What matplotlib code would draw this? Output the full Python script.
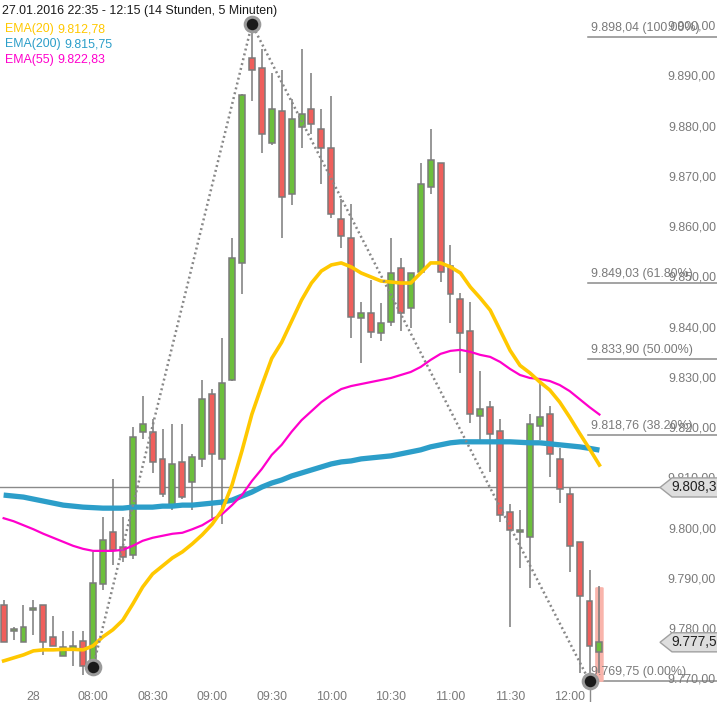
import matplotlib
matplotlib.use("Agg")
import matplotlib.pyplot as plt
from matplotlib.patches import FancyBboxPatch, Polygon
import matplotlib.transforms as mtransforms

plt.rcParams['font.family'] = ['Liberation Sans', 'DejaVu Sans']

# ---------------- data ----------------
idx = list(range(-9, 52))  # candle index, 0 = 08:00, 5 minute bars
opens = [9784.9, 9779.7, 9777.6, 9783.9, 9784.9, 9778.5, 9774.8, 9776.2, 9777.8,
         9772.8, 9789.1, 9799.4, 9796.4, 9794.9, 9819.3, 9819.3, 9813.9, 9804.8, 9813.3,
         9809.4, 9813.9, 9826.9, 9813.9, 9829.8, 9852.9, 9893.7, 9891.7, 9876.8, 9883.3,
         9866.8, 9880.1, 9883.7, 9879.7, 9875.8, 9861.8, 9857.9, 9842.0, 9843.0, 9839.0,
         9841.2, 9851.9, 9844.0, 9851.1, 9868.2, 9872.8, 9852.3, 9845.9, 9839.4, 9822.5,
         9824.3, 9819.5, 9803.4, 9799.4, 9798.4, 9820.5, 9822.9, 9813.9, 9807.0, 9797.4,
         9785.7, 9775.6]
highs = [9785.9, 9780.5, 9784.9, 9785.9, 9784.9, 9782.7, 9779.7, 9779.7, 9779.7,
         9795.4, 9802.4, 9810.0, 9802.4, 9820.3, 9826.5, 9821.9, 9819.9, 9820.9, 9820.9,
         9814.9, 9829.8, 9827.9, 9838.0, 9857.9, 9886.7, 9900.5, 9895.6, 9890.7, 9891.3,
         9885.7, 9895.6, 9890.7, 9883.7, 9886.3, 9865.8, 9864.8, 9845.3, 9849.7, 9845.0,
         9857.9, 9853.9, 9851.0, 9872.8, 9879.7, 9872.8, 9856.5, 9847.0, 9845.3, 9831.4,
         9825.5, 9821.9, 9805.0, 9803.8, 9822.9, 9829.4, 9824.5, 9816.1, 9808.2, 9797.4,
         9791.9, 9788.7]
lows = [9777.6, 9778.0, 9777.6, 9778.9, 9775.0, 9776.8, 9774.8, 9772.8, 9771.0,
        9772.6, 9787.9, 9792.9, 9793.5, 9794.0, 9818.0, 9811.2, 9806.4, 9803.8, 9806.0,
        9803.8, 9812.3, 9802.2, 9801.0, 9829.5, 9846.9, 9885.3, 9874.8, 9876.5, 9857.9,
        9864.6, 9875.8, 9878.7, 9868.8, 9862.0, 9855.9, 9838.0, 9833.1, 9838.0, 9837.4,
        9840.4, 9839.4, 9840.0, 9851.1, 9866.8, 9849.3, 9841.0, 9831.0, 9821.1, 9817.7,
        9811.4, 9801.4, 9780.5, 9792.3, 9788.3, 9817.7, 9810.4, 9805.2, 9791.5, 9771.4,
        9769.75, 9771.4]
closes = [9777.6, 9779.9, 9780.5, 9784.0, 9777.6, 9776.8, 9776.6, 9776.6, 9772.8,
          9789.3, 9797.8, 9795.8, 9794.5, 9818.3, 9820.9, 9813.3, 9807.0, 9812.9, 9806.4,
          9814.3, 9825.9, 9814.9, 9829.2, 9853.9, 9886.5, 9891.3, 9878.7, 9883.7, 9866.2,
          9881.7, 9882.7, 9880.7, 9875.8, 9862.8, 9858.3, 9842.2, 9843.0, 9839.2, 9841.0,
          9850.9, 9843.0, 9850.9, 9868.8, 9873.4, 9851.1, 9846.9, 9839.0, 9822.9, 9823.9,
          9818.9, 9802.8, 9799.8, 9799.8, 9820.9, 9822.3, 9814.9, 9808.0, 9796.6, 9786.7,
          9776.8, 9777.5]

ema20 = [9773.8, 9774.4, 9775.0, 9775.8, 9776.0, 9776.0, 9776.1, 9776.1, 9776.0,
         9776.8, 9778.6, 9780.0, 9781.9, 9785.1, 9788.5, 9791.1, 9792.7, 9794.3, 9795.5,
         9797.1, 9798.9, 9801.0, 9803.8, 9808.8, 9815.6, 9822.9, 9828.6, 9834.0, 9837.2,
         9841.4, 9845.6, 9849.0, 9851.4, 9852.6, 9853.0, 9852.2, 9851.0, 9850.2, 9849.4,
         9849.2, 9849.0, 9849.0, 9851.0, 9853.0, 9853.0, 9852.2, 9851.0, 9848.2, 9846.0,
         9843.6, 9839.6, 9835.6, 9832.6, 9831.1, 9829.3, 9827.7, 9825.3, 9822.3, 9819.1,
         9816.0, 9812.78]
ema55 = [9802.2, 9801.6, 9800.8, 9800.0, 9799.1, 9798.3, 9797.5, 9796.7, 9796.1,
         9795.7, 9795.7, 9795.7, 9795.9, 9796.7, 9797.7, 9798.3, 9798.7, 9799.1, 9799.3,
         9800.0, 9800.8, 9802.0, 9803.0, 9804.8, 9806.8, 9809.6, 9812.0, 9814.8, 9816.8,
         9819.4, 9821.7, 9823.5, 9825.3, 9826.7, 9827.9, 9828.5, 9828.9, 9829.3, 9829.7,
         9830.1, 9830.7, 9831.3, 9832.3, 9833.7, 9834.9, 9835.5, 9835.7, 9835.3, 9834.7,
         9834.3, 9833.3, 9831.9, 9830.7, 9830.1, 9829.9, 9829.5, 9828.7, 9827.5, 9825.9,
         9824.3, 9822.83]
ema200 = [9806.8, 9806.6, 9806.4, 9806.0, 9805.6, 9805.2, 9804.8, 9804.6, 9804.4,
          9804.3, 9804.2, 9804.2, 9804.2, 9804.4, 9804.4, 9804.4, 9804.6, 9804.6, 9804.8,
          9804.8, 9805.0, 9805.2, 9805.4, 9805.8, 9806.6, 9807.4, 9808.4, 9809.2, 9809.8,
          9810.6, 9811.2, 9811.8, 9812.4, 9813.0, 9813.4, 9813.6, 9814.0, 9814.2, 9814.4,
          9814.6, 9815.0, 9815.4, 9815.8, 9816.4, 9816.8, 9817.2, 9817.4, 9817.4, 9817.4,
          9817.4, 9817.4, 9817.4, 9817.3, 9817.2, 9817.2, 9817.0, 9816.8, 9816.6, 9816.4,
          9816.1, 9815.75]

x_tick_idx = [-6, 0, 6, 12, 18, 24, 30, 36, 42, 48]
x_tick_labels = ["28", "08:00", "08:30", "09:00", "09:30", "10:00", "10:30", "11:00", "11:30", "12:00"]
y_ticks = [9770, 9780, 9790, 9800, 9810, 9820, 9830, 9840, 9850, 9860, 9870, 9880, 9890, 9900]
y_tick_labels = ["9.770,00", "9.780,00", "9.790,00", "9.800,00", "9.810,00", "9.820,00", "9.830,00",
                 "9.840,00", "9.850,00", "9.860,00", "9.870,00", "9.880,00", "9.890,00", "9.900,00"]

fib_levels = [9898.04, 9849.03, 9833.90, 9818.76, 9769.75]
fib_labels = ["9.898,04 (100.00%)", "9.849,03 (61.80%)", "9.833,90 (50.00%)",
              "9.818,76 (38.20%)", "9.769,75 (0.00%)"]

swing_idx = [0, 16, 50]
hline_price = 9808.32
hline_label = "9.808,32"
last_price = 9777.50
last_label = "9.777,50"

title = "27.01.2016 22:35 - 12:15 (14 Stunden, 5 Minuten)"
legend_names = ["EMA(20)", "EMA(200)", "EMA(55)"]
legend_values = ["9.812,78", "9.815,75", "9.822,83"]

# ---------------- style ----------------
W, H = 717, 702
GREEN = "#6cbf3c"
RED = "#ef5f5c"
EDGE = "#7a7a7a"
YELLOW = "#ffc800"
BLUE = "#2c9ec9"
MAGENTA = "#ff00cc"
GRAY_TXT = "#7a7a7a"
FS = 8.9

fig = plt.figure(figsize=(W / 100, H / 100), dpi=100)
ax = fig.add_axes([0, 0, 1, 1])
ax.set_axis_off()

# pixel mapping: x_px = 93 + 9.93*i ; y_px = 680 - 5.025*(p - 9770)
ax.set_xlim((0 - 93) / 9.93, (W - 93) / 9.93)
ax.set_ylim(9770 - (H - 680) / 5.025, 9770 + 680 / 5.025)

# horizontal reference line
ax.plot([idx[0] - 10, 57], [hline_price, hline_price], color="#8a8a8a", lw=1.0, zorder=1)

# fib lines
for lv, lb in zip(fib_levels, fib_labels):
    ax.plot([49.8, 70], [lv, lv], color="#8a8a8a", lw=1.1, zorder=1)
    ax.text(50.2, lv + 0.6, lb, color=GRAY_TXT, fontsize=FS, ha="left", va="bottom", zorder=6)

# highlight behind last candle
last = len(idx) - 1
hl = FancyBboxPatch((idx[last] - 0.35, lows[last] - 1.7), 0.7, highs[last] - lows[last] + 1.4,
                    boxstyle="round,pad=0.08,rounding_size=0.2", fc="#f9b4ab", ec="none", zorder=1.5)
ax.add_patch(hl)

# candles
bw = 0.6
for i, o, h, l, c in zip(idx, opens, highs, lows, closes):
    ax.plot([i, i], [l, h], color=EDGE, lw=1.1, zorder=2, solid_capstyle="butt")
    col = GREEN if c >= o else RED
    bottom = min(o, c)
    height = max(abs(c - o), 0.5)
    ax.bar(i, height, bottom=bottom, width=bw, color=col, edgecolor=EDGE, linewidth=1.1, zorder=3)

# EMA lines
ax.plot(idx, ema200, color=BLUE, lw=3.8, zorder=4, solid_capstyle="butt")
ax.plot(idx, ema55, color=MAGENTA, lw=1.6, zorder=4.1)
ax.plot(idx, ema20, color=YELLOW, lw=2.6, zorder=4.2)

# swing zigzag (dotted)
sx = [idx.index(s) for s in swing_idx]
sy = [lows[sx[0]], highs[sx[1]], lows[sx[2]]]
ax.plot(swing_idx, sy, color="#888888", lw=1.8, linestyle=(0, (0.8, 1.2)), zorder=5)
ax.plot([swing_idx[2], swing_idx[2]], [sy[2], 9760], color="#8a8a8a", lw=1.0, zorder=1)
ax.plot(swing_idx, sy, linestyle="none", marker="o", markersize=10.5, markerfacecolor="#1a1a1a",
        markeredgecolor="#9a9a9a", markeredgewidth=2.2, zorder=6)

# y tick labels on the right
tr_y = mtransforms.blended_transform_factory(ax.transAxes, ax.transData)
for v, lb in zip(y_ticks, y_tick_labels):
    ax.text(716 / W, v, lb, transform=tr_y, color=GRAY_TXT, fontsize=FS, ha="right", va="center", zorder=6)

# x tick labels
tr_x = mtransforms.blended_transform_factory(ax.transData, ax.transAxes)
for i, lb in zip(x_tick_idx, x_tick_labels):
    ax.text(i, 1 - 691 / H, lb, transform=tr_x, color=GRAY_TXT, fontsize=FS, ha="center", va="top", zorder=6)

# price boxes on the right
def price_box(price, label):
    tr = tr_y
    y0 = price
    hh = 1.9
    xa, xb, xc = 660 / W, 672 / W, 1.01
    poly = Polygon([[xa, y0], [xb, y0 + hh], [xc, y0 + hh], [xc, y0 - hh], [xb, y0 - hh]],
                   closed=True, transform=tr, fc="#dedede", ec="#a0a0a0", lw=1.0, zorder=7)
    ax.add_patch(poly)
    ax.text(671 / W, y0, label, transform=tr, color="#222222", fontsize=9.8, ha="left", va="center", zorder=8)

price_box(hline_price, hline_label)
price_box(last_price, last_label)

# title and legend
fig.text(2 / W, 1 - 11 / H, title, color="#1a1a1a", fontsize=FS, ha="left", va="center")
leg_colors = [YELLOW, BLUE, MAGENTA]
leg_offsets = [57, 64, 57]
for k, (nm, val, colr, off) in enumerate(zip(legend_names, legend_values, leg_colors, leg_offsets)):
    yy = 1 - (29 + 15.5 * k) / H
    fig.text(5 / W, yy, nm, color=colr, fontsize=FS, ha="left", va="center")
    fig.text(off / W, yy, val, color=colr, fontsize=FS, ha="left", va="center")

fig.savefig("out.png", dpi=100)
